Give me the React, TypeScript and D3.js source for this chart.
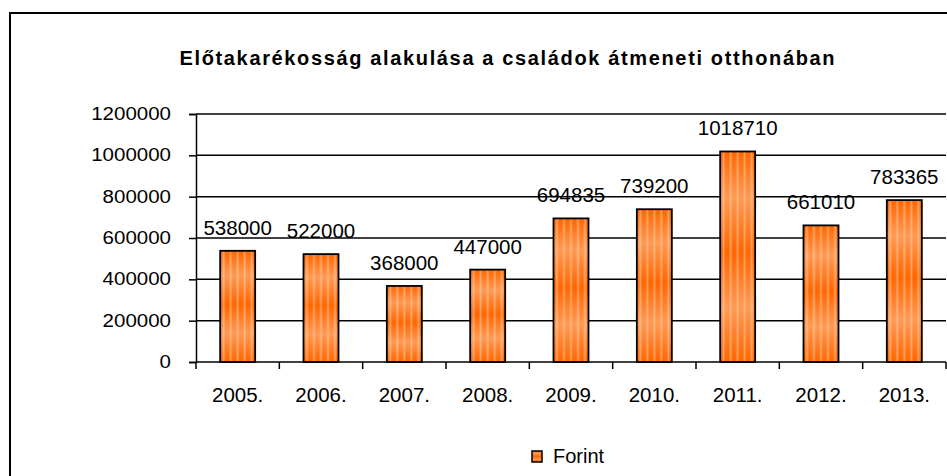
import { useEffect, useRef } from "react"
import * as d3 from "d3"

const years = ["2005.", "2006.", "2007.", "2008.", "2009.", "2010.", "2011.", "2012.", "2013."]
const forint = [538000, 522000, 368000, 447000, 694835, 739200, 1018710, 661010, 783365]
const yTicks = [0, 200000, 400000, 600000, 800000, 1000000, 1200000]
const title = "Előtakarékosság alakulása a családok átmeneti otthonában"
const seriesName = "Forint"

const W = 947
const H = 476
const left = 196
const right = 946
const top = 114
const bottom = 362

const App = () => {
  const ref = useRef<SVGSVGElement>(null)

  useEffect(() => {
    const svg = d3.select(ref.current)
    svg.selectAll("*").remove()

    const defs = svg.append("defs")
    const grad = defs
      .append("linearGradient")
      .attr("id", "barGrad")
      .attr("x1", 0)
      .attr("y1", 0)
      .attr("x2", 0)
      .attr("y2", 1)
    const stops: [number, string][] = [
      [0, "#ff6600"],
      [0.22, "#ff9a55"],
      [0.48, "#ff6600"],
      [0.74, "#ff9a55"],
      [1, "#ff6600"],
    ]
    stops.forEach(([o, c]) => grad.append("stop").attr("offset", o).attr("stop-color", c))

    const stripes = defs
      .append("pattern")
      .attr("id", "stripes")
      .attr("patternUnits", "objectBoundingBox")
      .attr("width", 0.2)
      .attr("height", 1)
      .attr("patternContentUnits", "objectBoundingBox")
    const sg = defs
      .append("linearGradient")
      .attr("id", "stripeGrad")
      .attr("x1", 0)
      .attr("x2", 1)
      .attr("y1", 0)
      .attr("y2", 0)
    sg.append("stop").attr("offset", 0).attr("stop-color", "#ffe0c0").attr("stop-opacity", 0)
    sg.append("stop").attr("offset", 0.5).attr("stop-color", "#ffe0c0").attr("stop-opacity", 0.45)
    sg.append("stop").attr("offset", 1).attr("stop-color", "#ffe0c0").attr("stop-opacity", 0)
    stripes
      .append("rect")
      .attr("x", 0.05)
      .attr("y", 0)
      .attr("width", 0.1)
      .attr("height", 1)
      .attr("fill", "url(#stripeGrad)")

    // frame
    svg
      .append("path")
      .attr("d", `M10,${H + 5}V13H${W + 5}`)
      .attr("fill", "none")
      .attr("stroke", "#000")
      .attr("stroke-width", 2)

    svg
      .append("text")
      .attr("x", 507)
      .attr("y", 65)
      .attr("text-anchor", "middle")
      .attr("font-family", "Liberation Sans, Arial, sans-serif")
      .attr("font-weight", "bold")
      .attr("font-size", 20)
      .attr("textLength", 655)
      .attr("lengthAdjust", "spacing")
      .text(title)

    const x = d3.scaleBand().domain(years).range([left, right]).paddingInner(0.58).paddingOuter(0.29)
    const y = d3.scaleLinear().domain([0, 1200000]).range([bottom, top])

    const font = "Liberation Sans, Arial, sans-serif"

    // gridlines
    svg
      .append("g")
      .selectAll("line")
      .data(yTicks.slice(1))
      .join("line")
      .attr("x1", left)
      .attr("x2", right)
      .attr("y1", (d) => y(d))
      .attr("y2", (d) => y(d))
      .attr("stroke", "#000")
      .attr("stroke-width", 1.5)

    const yAxis = svg
      .append("g")
      .attr("transform", `translate(${left},0)`)
      .call(d3.axisLeft(y).tickValues(yTicks).tickFormat(d3.format("d")).tickSize(7).tickPadding(18) as any)
    yAxis.select(".domain").attr("stroke-width", 1.5)
    yAxis.selectAll("line").attr("stroke-width", 1.5)
    yAxis
      .selectAll<SVGTextElement, number>("text")
      .attr("font-family", font)
      .attr("font-size", 17.5)
      .attr("fill", "#000")
      .attr("textLength", (d) => String(d).length * 11.4)
      .attr("lengthAdjust", "spacingAndGlyphs")

    const step = x.step()
    const xAxis = svg.append("g").attr("transform", `translate(0,${bottom})`)
    xAxis
      .append("line")
      .attr("x1", left)
      .attr("x2", right)
      .attr("stroke", "#000")
      .attr("stroke-width", 1.5)
    xAxis
      .selectAll("line.tk")
      .data(d3.range(years.length + 1))
      .join("line")
      .attr("class", "tk")
      .attr("x1", (i) => left + i * step)
      .attr("x2", (i) => left + i * step)
      .attr("y1", 0)
      .attr("y2", 7)
      .attr("stroke", "#000")
      .attr("stroke-width", 1.5)
    xAxis
      .selectAll("text")
      .data(years)
      .join("text")
      .attr("x", (d) => x(d)! + x.bandwidth() / 2)
      .attr("y", 40)
      .attr("text-anchor", "middle")
      .attr("font-family", font)
      .attr("font-size", 20.5)
      .text((d) => d)

    const bars = svg.append("g")
    const data = years.map((yr, i) => ({ yr, v: forint[i] }))
    bars
      .selectAll("rect.b")
      .data(data)
      .join("rect")
      .attr("class", "b")
      .attr("x", (d) => x(d.yr)!)
      .attr("y", (d) => y(d.v))
      .attr("width", x.bandwidth())
      .attr("height", (d) => bottom - y(d.v))
      .attr("fill", "url(#barGrad)")
    bars
      .selectAll("rect.s")
      .data(data)
      .join("rect")
      .attr("class", "s")
      .attr("x", (d) => x(d.yr)!)
      .attr("y", (d) => y(d.v))
      .attr("width", x.bandwidth())
      .attr("height", (d) => bottom - y(d.v))
      .attr("fill", "url(#stripes)")
      .attr("stroke", "#000")
      .attr("stroke-width", 1.8)

    bars
      .selectAll("text")
      .data(data)
      .join("text")
      .attr("x", (d) => x(d.yr)! + x.bandwidth() / 2)
      .attr("y", (d) => y(d.v) - 16)
      .attr("text-anchor", "middle")
      .attr("font-family", font)
      .attr("font-size", 20.5)
      .text((d) => d.v)

    // legend
    const lg = svg.append("g").attr("transform", "translate(532,451)")
    lg.append("rect")
      .attr("width", 10)
      .attr("height", 11)
      .attr("fill", "url(#barGrad)")
      .attr("stroke", "#000")
      .attr("stroke-width", 1.5)
    lg.append("text")
      .attr("x", 21)
      .attr("y", 12)
      .attr("font-family", font)
      .attr("font-size", 20)
      .text(seriesName)
  }, [])

  return (
    <svg
      ref={ref}
      width={W}
      height={H}
      style={{ position: "absolute", left: 0, top: 0, background: "#fff" }}
    />
  )
}

export default App
